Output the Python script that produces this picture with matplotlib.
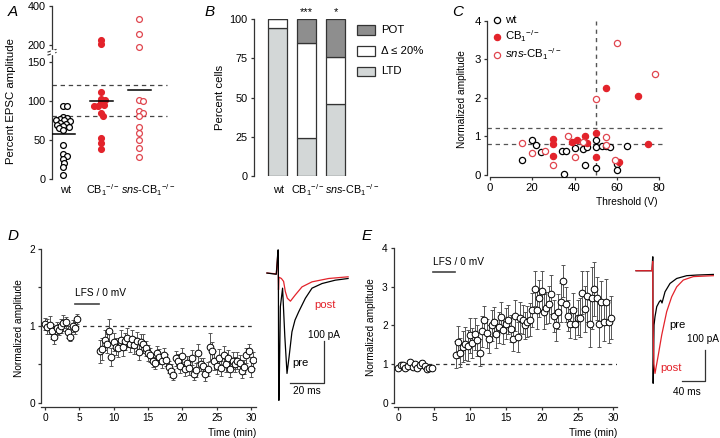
import numpy as np
import matplotlib
matplotlib.use("Agg")
import matplotlib.pyplot as plt
from matplotlib.lines import Line2D
from matplotlib.patches import Rectangle

plt.rcParams['font.family'] = ['Liberation Sans', 'DejaVu Sans']
plt.rcParams['mathtext.fontset'] = 'custom'
plt.rcParams['mathtext.rm'] = 'Liberation Sans'
plt.rcParams['mathtext.it'] = 'Liberation Sans:italic'

# ---------------- DATA ----------------
# Panel A: percent EPSC amplitude
A_groups = ['wt', 'CB$_1$$^{-/-}$', '$\\it{sns}$-CB$_1$$^{-/-}$']
A_wt = [94, 93, 80, 78, 77, 76, 75, 74, 72, 71, 69, 68, 67, 65, 63, 44, 32, 30, 25, 20, 15, 5]
A_cb1 = [227, 207, 111, 103, 101, 98, 95, 94, 93, 85, 81, 53, 46, 38]
A_sns = [333, 256, 190, 101, 100, 87, 85, 81, 66, 59, 50, 40, 28]
A_means = [57, 100, 114]
A_thresholds = [120, 81]

# Panel B: percent cells
B_groups = ['wt', 'CB$_1$$^{-/-}$', '$\\it{sns}$-CB$_1$$^{-/-}$']
B_ltd = [94, 24, 46]
B_nochange = [6, 61, 30]
B_pot = [0, 15, 24]
B_stars = ['', '***', '*']

# Panel C: threshold vs normalized amplitude
C_wt_x = [15, 20, 22, 24, 34, 36, 35, 40, 44, 45, 46, 50, 50, 50, 53, 55, 57, 60, 60, 65]
C_wt_y = [0.40, 0.92, 0.77, 0.61, 0.63, 0.63, 0.02, 0.70, 0.67, 0.26, 0.74, 0.92, 0.72, 0.19, 0.76, 0.75, 0.72, 0.28, 0.14, 0.75]
C_cb1_x = [30, 30, 30, 39, 41, 45, 46, 50, 50, 55, 61, 70, 75]
C_cb1_y = [0.93, 0.80, 0.49, 0.85, 0.90, 1.00, 0.83, 1.09, 0.46, 2.25, 0.35, 2.05, 0.81]
C_sns_x = [15, 20, 26, 30, 37, 40, 44, 50, 55, 55, 59, 60, 78]
C_sns_y = [0.84, 0.58, 0.63, 0.27, 1.01, 0.48, 0.86, 1.97, 0.99, 0.79, 0.39, 3.42, 2.62]

# Panel D: LTD time course (sampled every 20 s)
D_base = [1.03, 0.99, 1.01, 0.93, 0.86, 0.97, 0.95, 1.00, 1.04, 1.05, 0.92, 0.86, 1.00, 0.97, 1.09]
D_base_err = [0.08, 0.10, 0.12, 0.10, 0.09, 0.08, 0.07, 0.09, 0.10, 0.07, 0.08, 0.06, 0.08, 0.08, 0.07]
D_post = [0.67, 0.70, 0.82, 0.77, 0.94, 0.60, 0.79, 0.73, 0.72, 0.82,
          0.73, 0.80, 0.85, 0.76, 0.83, 0.75, 0.80, 0.66, 0.79, 0.77,
          0.71, 0.65, 0.62, 0.55, 0.52, 0.65, 0.60, 0.55, 0.62, 0.56,
          0.47, 0.42, 0.37, 0.58, 0.55, 0.48, 0.61, 0.44, 0.52, 0.45,
          0.59, 0.38, 0.43, 0.65, 0.50, 0.48, 0.38, 0.44, 0.73, 0.67,
          0.55, 0.48, 0.58, 0.45, 0.62, 0.50, 0.58, 0.44, 0.55, 0.50,
          0.55, 0.52, 0.42, 0.47, 0.62, 0.68, 0.44, 0.56]
D_post_err = [0.15, 0.14, 0.13, 0.12, 0.15, 0.12, 0.12, 0.11, 0.12, 0.13,
              0.12, 0.11, 0.12, 0.10, 0.12, 0.11, 0.12, 0.10, 0.11, 0.12,
              0.10, 0.10, 0.09, 0.08, 0.08, 0.09, 0.10, 0.09, 0.09, 0.08,
              0.08, 0.08, 0.07, 0.10, 0.09, 0.09, 0.10, 0.09, 0.09, 0.08,
              0.10, 0.08, 0.09, 0.12, 0.09, 0.10, 0.10, 0.09, 0.18, 0.12,
              0.12, 0.10, 0.12, 0.10, 0.12, 0.10, 0.11, 0.10, 0.11, 0.10,
              0.11, 0.10, 0.10, 0.09, 0.10, 0.08, 0.10, 0.10]

# Panel E: LTP time course
E_base = [0.91, 0.98, 0.97, 0.89, 0.95, 1.05, 0.94, 1.00, 0.90, 0.98, 1.04, 0.95, 0.88, 0.91, 0.89]
E_base_err = [0.05, 0.06, 0.05, 0.05, 0.05, 0.07, 0.06, 0.05, 0.06, 0.05, 0.06, 0.06, 0.05, 0.05, 0.05]
E_post = [1.25, 1.57, 1.30, 1.45, 1.53, 1.48, 1.75, 1.55, 1.78, 1.62,
          1.30, 1.85, 2.15, 1.80, 1.65, 2.00, 2.10, 1.78, 1.95, 2.22,
          1.88, 2.05, 2.15, 1.92, 1.65, 2.25, 1.70, 2.20, 2.15, 2.00,
          2.10, 2.15, 2.40, 2.95, 2.40, 2.70, 2.90, 2.35, 2.45, 2.55,
          2.80, 2.25, 2.00, 2.35, 2.60, 3.15, 2.55, 2.25, 2.05, 2.40,
          2.05, 2.20, 2.20, 2.85, 2.42, 2.75, 2.05, 2.70, 2.95, 2.70,
          2.05, 2.60, 2.10, 2.60, 2.10, 2.20]
E_post_err = [0.35, 0.42, 0.38, 0.40, 0.42, 0.40, 0.45, 0.38, 0.42, 0.40,
              0.35, 0.40, 0.35, 0.38, 0.35, 0.40, 0.38, 0.35, 0.40, 0.38,
              0.35, 0.40, 0.38, 0.35, 0.32, 0.40, 0.38, 0.40, 0.38, 0.35,
              0.40, 0.42, 0.45, 0.45, 0.50, 0.48, 0.50, 0.45, 0.42, 0.48,
              0.50, 0.42, 0.40, 0.45, 0.50, 0.42, 0.45, 0.40, 0.38, 0.45,
              0.40, 0.45, 0.50, 0.55, 0.60, 0.65, 0.60, 0.80, 0.70, 0.55,
              0.60, 0.55, 0.50, 0.60, 0.55, 0.55]
SAMPLE_MIN = 1 / 3.0

# Example traces (ms, pA), key samples
D_pre_t = [-6.5, -1.0, 0.0, 0.2, 0.4, 0.6, 1.4, 2.7, 4.0, 5.3, 6.5, 8.2, 10.0, 12.2, 16.1, 20.0, 25.9, 33.7, 41.2]
D_pre_i = [0, -3, 55, 55, -303, -303, -80, -36, -150, -239, -200, -140, -112, -92, -60, -36, -25, -17, -13]
D_post_t = [-6.5, -1.0, 0.0, 0.3, 0.6, 2.0, 3.3, 4.3, 5.5, 7.3, 10.2, 14.1, 20.0, 29.8, 41.2]
D_post_i = [0, -2, 50, -40, -10, -13, -20, -44, -60, -67, -52, -33, -21, -13, -9]
E_pre_t = [-29, -1.2, 0.0, 0.3, 0.6, 1.0, 2.3, 4.0, 7.0, 11.5, 14.0, 16.2, 21.4, 30.1, 41.7, 59.1, 76.5, 105.4]
E_pre_i = [0, 0, 45, 45, -363, -363, -175, -148, -116, -100, -95, -104, -68, -41, -25, -16, -14, -12]
E_post_t = [-29, -1.2, 0.0, 0.4, 2.0, 4.0, 9.7, 15.7, 24.3, 33.0, 41.7, 53.2, 70.6, 105.4]
E_post_i = [0, 0, 30, -150, -300, -331, -272, -207, -132, -84, -52, -30, -19, -16]

# ---------------- STYLE ----------------
W, H = 720, 438
fig = plt.figure(figsize=(W / 100, H / 100), dpi=100)
SP = '#333333'
RED = '#e3232b'
RED_O = '#e0464f'
LTD_C = '#d3d7d7'
POT_C = '#8e8e8e'
FS_T = 7.8
FS_L = 8.2
FS_S = 7.3
FS_G = 7.8


def ax_px(l, t, r, b):
    return fig.add_axes([l / W, 1 - b / H, (r - l) / W, (b - t) / H])


def style(ax, fs=FS_T):
    for s in ['top', 'right']:
        ax.spines[s].set_visible(False)
    for s in ['left', 'bottom']:
        ax.spines[s].set_color(SP)
        ax.spines[s].set_linewidth(0.9)
    ax.tick_params(direction='out', length=2.5, width=0.9, color=SP, labelsize=fs, pad=2)
    ax.patch.set_alpha(0)


# ---------------- PANEL A ----------------
axLo = ax_px(52, 54, 172, 179)
axHi = ax_px(52, 6, 172, 49)
for ax in (axLo, axHi):
    style(ax)
    ax.spines['bottom'].set_visible(False)
    ax.set_xlim(-0.29, 2.87)
    ax.set_xticks([])
axLo.set_ylim(0, 160)
axHi.set_ylim(180, 400)
axLo.set_yticks([0, 50, 100, 150])
axHi.set_yticks([200, 400])
for lab, xp in zip(A_groups, [65.5, 103, 148]):
    fig.text(xp / W, 1 - 190 / H, lab, fontsize=FS_G, ha='center', va='center')
axLo.set_ylabel('Percent EPSC amplitude', fontsize=FS_L, labelpad=4)
axLo.yaxis.set_label_coords(-0.3, 0.62)


def ypx(v):
    return v * 0.78 if v < 170 else 130 + (v - 180) * 0.195


def swarm(vals, diam=3.9, xs=38.0):
    placed = []
    order = np.argsort(vals)[::-1]
    res = [0.0] * len(vals)
    for i in order:
        y = ypx(vals[i])
        chosen = 0.0
        for k in range(0, 80):
            cands = [0.0] if k == 0 else [k * 0.5, -k * 0.5]
            found = False
            for x in cands:
                if all((x - px) ** 2 + (y - py) ** 2 >= diam ** 2 for px, py in placed):
                    chosen, found = x, True
                    break
            if found:
                break
        placed.append((chosen, y))
        res[i] = chosen / xs
    return res


for gi, (vals, fc, ec) in enumerate([(A_wt, 'white', 'black'), (A_cb1, RED, RED), (A_sns, 'white', RED_O)]):
    offs = swarm(vals)
    for v, o in zip(vals, offs):
        ax = axLo if v < 170 else axHi
        ax.plot(gi + o, v, 'o', ms=4.2, mfc=fc, mec=ec, mew=0.9, clip_on=False, zorder=3)
    axLo.plot([gi - 0.3, gi + 0.32], [A_means[gi]] * 2, color='black', lw=1.1, zorder=4)
for thr in A_thresholds:
    axLo.axhline(thr, xmin=0, xmax=0.96, color='#444444', lw=0.9, ls=(0, (3.5, 3)))
# axis break marks
for dy in (0, 3):
    fig.add_artist(Line2D([48 / W, 56 / W], [1 - (52 + dy) / H, 1 - (49.5 + dy) / H], color=SP, lw=0.8))
fig.add_artist(Rectangle((50.5 / W, 1 - 53.5 / H), 3 / W, 3 / H, color='white', zorder=5))
fig.text(8 / W, 1 - 16 / H, 'A', fontsize=11, style='italic')

# ---------------- PANEL B ----------------
axB = ax_px(254, 19, 350, 176)
style(axB)
axB.spines['bottom'].set_visible(False)
x = np.arange(3)
bw = 0.66
kw = dict(width=bw, edgecolor=SP, linewidth=0.9, zorder=2)
axB.bar(x, B_ltd, color=LTD_C, **kw)
axB.bar(x, B_nochange, bottom=B_ltd, color='white', **kw)
axB.bar(x, B_pot, bottom=np.array(B_ltd) + np.array(B_nochange), color=POT_C, **kw)
axB.set_xlim(-0.82, 2.5)
axB.set_ylim(0, 100)
axB.set_yticks([0, 25, 50, 75, 100])
axB.set_xticks([])
for lab, xp in zip(B_groups, [279, 308, 352]):
    fig.text(xp / W, 1 - 190 / H, lab, fontsize=FS_G, ha='center', va='center')
axB.set_ylabel('Percent cells', fontsize=FS_L, labelpad=3)
for xi, s in zip(x, B_stars):
    axB.text(xi, 101.5, s, ha='center', va='bottom', fontsize=8)
for lab, col, ytop in [('POT', POT_C, 25.5), ('\u0394 \u2264 20%', 'white', 46.5), ('LTD', LTD_C, 66.5)]:
    fig.add_artist(Rectangle((357 / W, 1 - (ytop + 9.5) / H), 18 / W, 9.5 / H, facecolor=col, edgecolor=SP, lw=0.9))
    fig.text(381 / W, 1 - (ytop + 4.8) / H, lab, fontsize=FS_L, va='center')
fig.text(205 / W, 1 - 16 / H, 'B', fontsize=11, style='italic')

# ---------------- PANEL C ----------------
axC = ax_px(487, 21, 665, 177)
style(axC, FS_L)
axC.set_xlim(-1.42, 82.84)
axC.set_ylim(-0.052, 4.0)
axC.spines['left'].set_bounds(0, 4)
axC.spines['bottom'].set_bounds(0, 80)
axC.set_xticks([0, 20, 40, 60, 80])
axC.set_yticks([0, 1, 2, 3, 4])
axC.axvline(50, ymin=0.013, ymax=1, color='#555555', lw=1.0, ls=(0, (3, 3)))
for yv in (1.22, 0.81):
    axC.axhline(yv, color='#555555', lw=0.9, ls=(0, (3.5, 3)))
h1 = axC.scatter(C_wt_x, C_wt_y, s=20, facecolors='white', edgecolors='black', linewidths=0.9, zorder=3, label='wt')
h2 = axC.scatter(C_cb1_x, C_cb1_y, s=20, facecolors=RED, edgecolors=RED, linewidths=0.9, zorder=3, label='CB$_1$$^{-/-}$')
h3 = axC.scatter(C_sns_x, C_sns_y, s=20, facecolors='white', edgecolors=RED_O, linewidths=0.9, zorder=3, label='$\\it{sns}$-CB$_1$$^{-/-}$')
leg = axC.legend(handles=[h1, h2, h3], loc='upper left', bbox_to_anchor=(-0.02, 1.08), frameon=False,
                 fontsize=FS_L, handletextpad=0.1, labelspacing=0.25, borderaxespad=0.2, handlelength=1.2)
axC.set_ylabel('Normalized amplitude', fontsize=FS_S, labelpad=5)
axC.set_xlabel('Threshold (V)', fontsize=FS_S, labelpad=2)
axC.xaxis.set_label_coords(0.96, -0.13)
axC.xaxis.label.set_ha('right')
fig.text(452 / W, 1 - 16 / H, 'C', fontsize=11, style='italic')


# ---------------- PANELS D/E time courses ----------------
def timecourse(ax, base, base_err, post, post_err, post_start, ylim_top, yticks, minor, bar, bar_y, txt_y, xright):
    style(ax, FS_S)
    tb = np.arange(len(base)) * SAMPLE_MIN
    tp = post_start + np.arange(len(post)) * SAMPLE_MIN
    for t, v, e in [(tb, base, base_err), (tp, post, post_err)]:
        ax.errorbar(t, v, yerr=e, fmt='o', ms=4.8, mfc='white', mec='black', mew=0.7,
                    ecolor='#555555', elinewidth=0.7, capsize=1.4, capthick=0.7, zorder=3)
    ax.plot([0, 30.5], [1, 1], color='#333333', lw=0.9, ls=(0, (3, 3)), zorder=1)
    ax.plot(bar, [bar_y, bar_y], color='#444444', lw=1.2)
    ax.text(bar[0], txt_y, 'LFS / 0 mV', fontsize=FS_S, ha='left', va='bottom')
    ax.set_ylim(-ylim_top * 0.026, ylim_top)
    ax.set_xlim(-0.6, xright)
    ax.spines['left'].set_bounds(0, ylim_top)
    ax.set_yticks(yticks)
    ax.set_yticks(minor, minor=True)
    ax.tick_params(which='minor', direction='out', length=2.5, width=0.9, color=SP)
    ax.set_xticks([0, 5, 10, 15, 20, 25, 30])
    ax.set_ylabel('Normalized amplitude', fontsize=FS_S, labelpad=4)
    ax.set_xlabel('Time (min)', fontsize=FS_S, labelpad=2)
    ax.xaxis.set_label_coords(1.0, -0.13)
    ax.xaxis.label.set_ha('right')


axD = ax_px(41, 249, 256, 407)
timecourse(axD, D_base, D_base_err, D_post, D_post_err, 8.0, 2.0, [0, 1, 2], [0.5, 1.5], [4.4, 7.9], 1.29, 1.36, 30.73)
fig.text(8 / W, 1 - 240 / H, 'D', fontsize=11, style='italic')

axE = ax_px(394, 248, 617, 407)
timecourse(axE, E_base, E_base_err, E_post, E_post_err, 8.0, 4.0, [0, 1, 2, 3, 4], [], [4.8, 7.9], 3.39, 3.52, 30.5)
fig.text(362 / W, 1 - 240 / H, 'E', fontsize=11, style='italic')


# ---------------- Insets (traces) ----------------
def trace_ax(l, t, r, b, xl, yl):
    ax = ax_px(l, t, r, b)
    ax.set_xlim(*xl)
    ax.set_ylim(*yl)
    ax.axis('off')
    return ax


tD = trace_ax(262, 245, 352, 410, (-9.4, 43.5), (-326, 66.7))
tD.plot(D_post_t, D_post_i, color=RED, lw=0.9, zorder=2)
tD.plot(D_pre_t, D_pre_i, color='black', lw=0.9, zorder=3)
tD.plot([26.9, 26.9, 7.3], [-162.6, -262.6, -262.6], color='#333333', lw=0.9)
tD.text(26.9, -160, '100 pA', ha='center', va='bottom', fontsize=FS_S)
tD.text(17.0, -270, '20 ms', ha='center', va='top', fontsize=FS_S)
tD.text(8.3, -215, 'pre', ha='left', va='center', fontsize=FS_L)
tD.text(21.2, -76, 'post', ha='left', va='center', fontsize=FS_L, color=RED)

tE = trace_ax(632, 245, 720, 410, (-36, 117), (-449, 82.9))
tE.plot(E_pre_t, E_pre_i, color='black', lw=0.9, zorder=2)
tE.plot(E_post_t, E_post_i, color=RED, lw=0.9, zorder=3)
tE.plot([91, 91, 51], [-256, -356, -356], color='#333333', lw=0.9)
tE.text(60, -236, '100 pA', ha='left', va='bottom', fontsize=FS_S, clip_on=False)
tE.text(60, -375, '40 ms', ha='center', va='top', fontsize=FS_S)
tE.text(28, -175, 'pre', ha='left', va='center', fontsize=FS_L)
tE.text(13, -312, 'post', ha='left', va='center', fontsize=FS_L, color=RED)

fig.savefig('out.png', dpi=100)
